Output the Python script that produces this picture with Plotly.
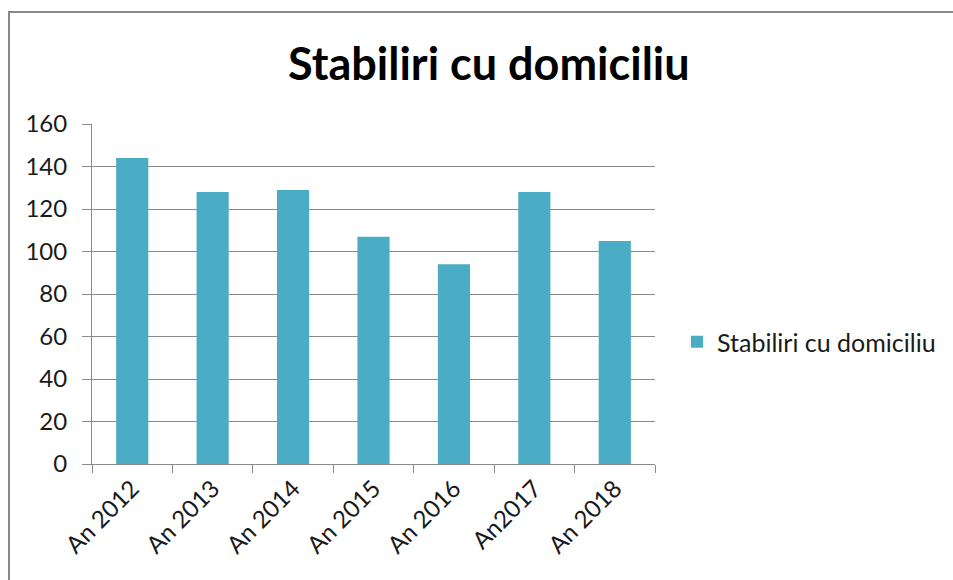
import plotly.graph_objects as go

categories = ["An 2012", "An 2013", "An 2014", "An 2015", "An 2016", "An2017", "An 2018"]
values = [144, 128, 129, 107, 94, 128, 105]
y_ticks = [0, 20, 40, 60, 80, 100, 120, 140, 160]
series_name = "Stabiliri cu domiciliu"
chart_title = "Stabiliri cu domiciliu"

# body margin is removed by the post script; work in window coordinates
OFF = 0
W, H = 953, 580
L, T = 92 - OFF, 124 - OFF
R = W - (655 - OFF)
B = H - (464 - OFF)
PW = W - L - R
PH = H - T - B


def px(x):
    return (x - OFF - L) / PW


def py(y):
    return (H - B - (y - OFF)) / PH


GRAY = "#8a8a8a"
FRAME = "#888888"
FONT = "Lato"

fig = go.Figure()
fig.add_trace(go.Bar(
    x=categories, y=values, name=series_name,
    marker=dict(color="#4BACC6", line=dict(width=0)),
    showlegend=True,
))

fig.update_layout(
    width=W, height=H,
    margin=dict(l=L, r=R, t=T, b=B, autoexpand=False),
    paper_bgcolor="white", plot_bgcolor="white",
    bargap=0.6,
    font=dict(family=FONT, size=24, color="#1a1a1a"),
    showlegend=True,
    legend=dict(x=px(677), y=py(342), xanchor="left", yanchor="middle",
                font=dict(family=FONT, size=25, color="#1a1a1a"),
                bgcolor="rgba(0,0,0,0)"),
    annotations=[dict(
        text="<b>" + chart_title + "</b>", xref="paper", yref="paper",
        x=px(489), y=py(63), xanchor="center", yanchor="middle",
        showarrow=False, font=dict(family=FONT, size=45, color="#000000"),
    )],
    shapes=[
        dict(type="line", xref="paper", yref="paper",
             x0=px(8), x1=px(1010), y0=py(12), y1=py(12),
             line=dict(color=FRAME, width=2), layer="below"),
        dict(type="line", xref="paper", yref="paper",
             x0=px(9), x1=px(9), y0=py(11), y1=py(620),
             line=dict(color=FRAME, width=2), layer="below"),
    ],
)

fig.update_yaxes(
    range=[0, 160], tickvals=y_ticks, ticktext=[str(v) for v in y_ticks],
    showgrid=True, gridcolor=GRAY, gridwidth=1,
    showline=True, linecolor=GRAY, linewidth=1,
    ticks="outside", ticklen=9, tickcolor=GRAY, ticklabelstandoff=10,
    zeroline=False, fixedrange=True,
)
fig.update_xaxes(
    showgrid=False, showline=True, linecolor=GRAY, linewidth=1,
    ticks="outside", ticklen=8, tickcolor=GRAY, tickson="boundaries",
    tickangle=-45, fixedrange=True,
)

fig.write_html(
    "out.html",
    config={"displayModeBar": False},
    post_script="document.documentElement.style.overflow='hidden';"
                "document.body.style.overflow='hidden';"
                "document.body.style.margin='0';",
)
